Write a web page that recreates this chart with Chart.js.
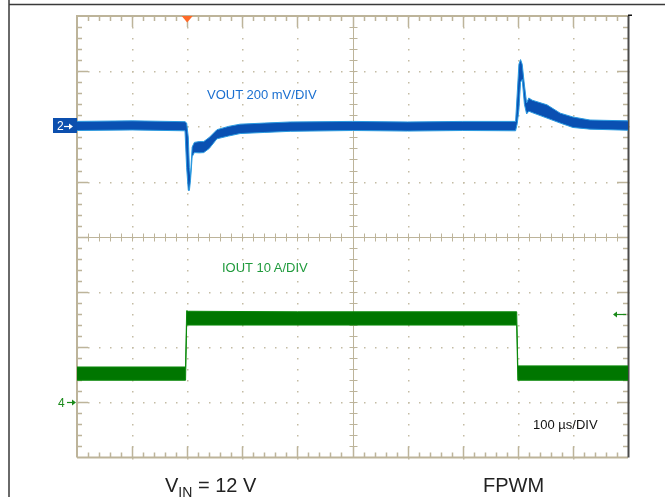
<!DOCTYPE html>
<html>
<head>
<meta charset="utf-8">
<script src="https://cdn.jsdelivr.net/npm/chart.js@4/dist/chart.umd.min.js"></script>
<style>
  body { margin: 0; background: #fff; }
  #wrap { position: relative; width: 665px; height: 497px; font-family: "Liberation Sans", Arial, sans-serif; }
  #scope { position: absolute; left: 0; top: 0; }
  .lbl { position: absolute; white-space: nowrap; line-height: 1; }
</style>
</head>
<body>
<div id="wrap">
  <canvas id="scope" width="665" height="497"></canvas>
  <div class="lbl" style="left:207px; top:88px; font-size:13px; color:#1a6fd0;">VOUT 200 mV/DIV</div>
  <div class="lbl" style="left:222px; top:261px; font-size:13px; color:#1f9a3c;">IOUT 10 A/DIV</div>
  <div class="lbl" style="left:533px; top:418px; font-size:13px; color:#111;">100 µs/DIV</div>
  <div class="lbl" style="left:57px; top:120px; font-size:12px; color:#fff;">2</div>
  <div class="lbl" style="left:58px; top:397px; font-size:12px; color:#1a8a1a;">4</div>
  <div class="lbl" style="left:165px; top:475px; font-size:20px; color:#222;">V<sub style="font-size:14px; vertical-align:-5px;">IN</sub> = 12 V</div>
  <div class="lbl" style="left:483px; top:475px; font-size:20px; color:#222;">FPWM</div>
</div>
<script>
// time axis in µs, 100 µs per division
const timeMin = 0;
const timeMax = 1000;

// channel 2, VOUT (mV, relative to its ground marker), top and bottom edge of the noisy trace
const voutTime = [0, 100, 196, 199, 202, 204, 206, 209, 213, 222, 230, 240, 254, 275, 296, 340, 387, 500, 600, 700, 796, 799, 802, 805, 808, 812, 816, 820, 826, 853, 877, 900, 931, 1000];
const voutHi   = [18, 20, 17, 12, -40, -150, -178, -75, -58, -55, -55, -40, -12, 0, 8, 12, 16, 18, 16, 18, 18, 120, 225, 242, 225, 150, 85, 103, 95, 78, 48, 34, 23, 20];
const voutLo   = [-15, -13, -16, -150, -232, -232, -195, -110, -95, -96, -95, -80, -45, -35, -26, -22, -18, -15, -17, -15, -16, 10, 60, 160, 170, 80, 45, 55, 50, 30, 12, -4, -10, -14];

// channel 4, IOUT (A, relative to its ground marker)
const ioutTime = [0, 197, 199, 202, 400, 798, 800, 1000];
const ioutHi   = [6.4, 6.4, 16.6, 16.5, 16.4, 16.4, 6.6, 6.6];
const ioutLo   = [4.0, 4.0, 14.0, 14.0, 14.0, 14.0, 4.0, 4.0];

const trigTime = 200;   // µs
const trigLevel = 16;   // A

const pts = (t, v) => t.map((x, i) => ({ x: x, y: v[i] }));

const TAN = '#bdb49a';

const scopeGrid = {
  id: 'scopeGrid',
  beforeDraw(chart) {
    const ctx = chart.ctx;
    ctx.save();
    ctx.strokeStyle = '#3a3a3a';
    ctx.lineWidth = 1.5;
    ctx.beginPath();
    ctx.moveTo(9, 0); ctx.lineTo(9, 497);
    ctx.moveTo(9, 4.5); ctx.lineTo(665, 4.5);
    ctx.stroke();
    ctx.restore();
  },
  beforeDatasetsDraw(chart) {
    const { ctx, chartArea: a, scales: { x, yV } } = chart;
    ctx.save();
    // dotted major lines
    ctx.fillStyle = '#c4bca4';
    for (let t = 100; t < 1000; t += 100) {
      if (t === 500) continue;
      const px = Math.round(x.getPixelForValue(t));
      for (let v = -1200; v <= 400; v += 40) {
        ctx.fillRect(px, Math.round(yV.getPixelForValue(v)), 1.5, 1.5);
      }
    }
    for (let v = -1000; v < 400; v += 200) {
      if (v === -400) continue;
      const py = Math.round(yV.getPixelForValue(v));
      for (let t = 0; t <= 1000; t += 20) {
        ctx.fillRect(Math.round(x.getPixelForValue(t)), py, 1.5, 1.5);
      }
    }
    // center cross with ticks
    ctx.strokeStyle = TAN;
    ctx.lineWidth = 1;
    const cx = Math.round(x.getPixelForValue(500)) + 0.5;
    const cy = Math.round(yV.getPixelForValue(-400)) + 0.5;
    ctx.beginPath();
    ctx.moveTo(cx, a.top); ctx.lineTo(cx, a.bottom);
    ctx.moveTo(a.left, cy); ctx.lineTo(a.right, cy);
    for (let t = 20; t < 1000; t += 20) {
      const px = Math.round(x.getPixelForValue(t)) + 0.5;
      ctx.moveTo(px, cy - 4); ctx.lineTo(px, cy + 4);
    }
    for (let v = -1160; v < 400; v += 40) {
      const py = Math.round(yV.getPixelForValue(v)) + 0.5;
      ctx.moveTo(cx - 4, py); ctx.lineTo(cx + 4, py);
    }
    ctx.stroke();
    // border ticks
    ctx.lineWidth = 1.5;
    ctx.beginPath();
    for (let t = 20; t < 1000; t += 20) {
      const px = Math.round(x.getPixelForValue(t)) + 0.5;
      const len = t % 100 === 0 ? 11 : 5;
      ctx.moveTo(px, a.top); ctx.lineTo(px, a.top + len);
      ctx.moveTo(px, a.bottom); ctx.lineTo(px, a.bottom - len);
    }
    for (let v = -1160; v < 400; v += 40) {
      const py = Math.round(yV.getPixelForValue(v)) + 0.5;
      const len = (v + 1200) % 200 === 0 ? 11 : 5;
      ctx.moveTo(a.left, py); ctx.lineTo(a.left + len, py);
      ctx.moveTo(a.right, py); ctx.lineTo(a.right - len, py);
    }
    ctx.stroke();
    ctx.lineWidth = 2;
    ctx.beginPath();
    ctx.moveTo(a.left, a.bottom); ctx.lineTo(a.left, a.top); ctx.lineTo(a.right, a.top);
    ctx.moveTo(a.left, a.bottom); ctx.lineTo(a.right, a.bottom);
    ctx.stroke();
    ctx.strokeStyle = '#4a4a4a';
    ctx.beginPath();
    ctx.moveTo(a.right + 0.5, a.top); ctx.lineTo(a.right + 0.5, a.bottom);
    ctx.stroke();
    ctx.restore();
  },
  afterDraw(chart) {
    const { ctx, chartArea: a, scales: { x, yV, yI } } = chart;
    ctx.save();
    // trigger position marker
    const tx = x.getPixelForValue(trigTime);
    ctx.fillStyle = '#ff6a28';
    ctx.beginPath();
    ctx.moveTo(tx - 5.5, a.top); ctx.lineTo(tx + 5.5, a.top); ctx.lineTo(tx, a.top + 6.5);
    ctx.closePath(); ctx.fill();
    // trigger level arrow
    const ly = Math.round(yI.getPixelForValue(trigLevel)) + 0.5;
    ctx.strokeStyle = '#1a8a1a'; ctx.fillStyle = '#1a8a1a'; ctx.lineWidth = 1.2;
    ctx.beginPath(); ctx.moveTo(a.right - 14, ly); ctx.lineTo(a.right - 2, ly); ctx.stroke();
    ctx.beginPath(); ctx.moveTo(a.right - 15, ly); ctx.lineTo(a.right - 11, ly - 3); ctx.lineTo(a.right - 11, ly + 3); ctx.closePath(); ctx.fill();
    // top-right mark
    ctx.fillStyle = '#111';
    ctx.fillRect(a.right, a.top - 1.5, 4, 1.5);
    // channel 2 ground marker
    const gy2 = yV.getPixelForValue(0);
    ctx.fillStyle = '#0c4fae';
    ctx.fillRect(53, Math.round(gy2 - 8), a.left - 53, 15);
    ctx.strokeStyle = '#fff'; ctx.fillStyle = '#fff'; ctx.lineWidth = 1.2;
    const r2 = Math.round(gy2) + 0.5;
    ctx.beginPath(); ctx.moveTo(64, r2); ctx.lineTo(71, r2); ctx.stroke();
    ctx.beginPath(); ctx.moveTo(73, r2); ctx.lineTo(69, r2 - 3); ctx.lineTo(69, r2 + 3); ctx.closePath(); ctx.fill();
    // channel 4 ground marker
    const r4 = Math.round(yI.getPixelForValue(0)) + 0.5;
    ctx.strokeStyle = '#1a8a1a'; ctx.fillStyle = '#1a8a1a';
    ctx.beginPath(); ctx.moveTo(67, r4); ctx.lineTo(74, r4); ctx.stroke();
    ctx.beginPath(); ctx.moveTo(76, r4); ctx.lineTo(72, r4 - 3); ctx.lineTo(72, r4 + 3); ctx.closePath(); ctx.fill();
    ctx.restore();
  }
};

const edgeBlue = '#2a9ae0';
const fillBlue = '#0a50b2';
const edgeGreen = '#0b8a0b';
const fillGreen = '#007600';

new Chart(document.getElementById('scope'), {
  type: 'line',
  data: {
    datasets: [
      { data: pts(voutTime, voutHi), yAxisID: 'yV', borderColor: edgeBlue, borderWidth: 1, pointRadius: 0, fill: false },
      { data: pts(voutTime, voutLo), yAxisID: 'yV', borderColor: edgeBlue, borderWidth: 1, pointRadius: 0, fill: '-1', backgroundColor: fillBlue },
      { data: pts(ioutTime, ioutHi), yAxisID: 'yI', borderColor: edgeGreen, borderWidth: 1, pointRadius: 0, fill: false },
      { data: pts(ioutTime, ioutLo), yAxisID: 'yI', borderColor: edgeGreen, borderWidth: 1, pointRadius: 0, fill: '-1', backgroundColor: fillGreen }
    ]
  },
  options: {
    responsive: false,
    animation: false,
    layout: { padding: { left: 77, right: 37, top: 16, bottom: 39.5 } },
    plugins: { legend: { display: false }, tooltip: { enabled: false } },
    elements: { line: { tension: 0 } },
    scales: {
      x: { type: 'linear', display: false, min: timeMin, max: timeMax },
      yV: { type: 'linear', display: false, min: -1200, max: 400 },
      yI: { type: 'linear', display: false, min: -10, max: 70 }
    }
  },
  plugins: [scopeGrid]
});
</script>
</body>
</html>
